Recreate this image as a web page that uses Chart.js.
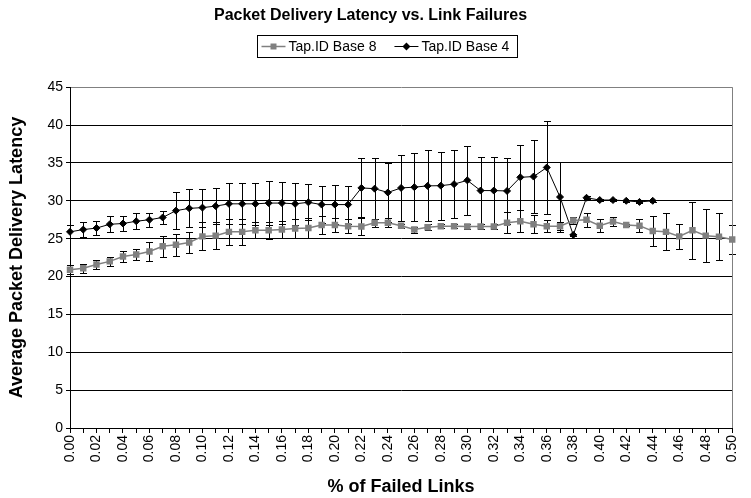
<!DOCTYPE html>
<html>
<head>
<meta charset="utf-8">
<script src="https://cdn.jsdelivr.net/npm/chart.js@4.4.0/dist/chart.umd.min.js"></script>
<style>
  html, body { margin: 0; padding: 0; background: #fff; }
  #wrap { width: 751px; height: 498px; }
</style>
</head>
<body>
<div id="wrap"><canvas id="latencyChart" width="751" height="498"></canvas></div>
<script>
const failedLinks = ['0.00','0.01','0.02','0.03','0.04','0.05','0.06','0.07','0.08','0.09',
    '0.10','0.11','0.12','0.13','0.14','0.15','0.16','0.17','0.18','0.19',
    '0.20','0.21','0.22','0.23','0.24','0.25','0.26','0.27','0.28','0.29',
    '0.30','0.31','0.32','0.33','0.34','0.35','0.36','0.37','0.38','0.39',
    '0.40','0.41','0.42','0.43','0.44','0.45','0.46','0.47','0.48','0.49','0.50'];

const base8 = [20.9, 21.1, 21.6, 22.0, 22.65, 22.9, 23.3, 24.0, 24.2, 24.5,
    25.3, 25.4, 25.9, 25.9, 26.1, 26.1, 26.2, 26.35, 26.4, 26.8,
    26.8, 26.65, 26.6, 27.1, 27.1, 26.7, 26.2, 26.5, 26.65, 26.65,
    26.6, 26.6, 26.6, 27.1, 27.3, 26.9, 26.65, 26.65, 27.4, 27.5,
    26.7, 27.25, 26.8, 26.7, 26.0, 25.9, 25.3, 26.1, 25.4, 25.25, 24.9];
const base8Err = [0.6, 0.57, 0.6, 0.6, 0.73, 0.77, 1.25, 1.36, 1.47, 1.4,
    1.85, 1.8, 1.75, 1.75, 1.05, 1.1, 1.1, 1.3, 1.3, 1.2,
    0.95, 0.9, 1.1, 0.55, 0.6, 0.3, 0.4, 0.4, 0.3, 0.3,
    0.3, 0.3, 0.3, 1.4, 1.45, 1.2, 0.75, 0.5, 0.4, 0.9,
    0.85, 0.6, 0.1, 0.85, 1.95, 2.45, 1.6, 3.8, 3.5, 3.1, 1.9];

const base4 = [25.9, 26.2, 26.4, 26.9, 27.0, 27.3, 27.5, 27.8, 28.7, 29.0,
    29.1, 29.3, 29.6, 29.6, 29.6, 29.7, 29.7, 29.6, 29.8, 29.5,
    29.5, 29.5, 31.7, 31.6, 31.1, 31.7, 31.8, 31.97, 32.0, 32.2,
    32.7, 31.35, 31.35, 31.3, 33.1, 33.2, 34.4, 30.5, 25.5, 30.4,
    30.1, 30.1, 30.0, 29.85, 30.0, null, null, null, null, null, null];
const base4Err = [0.84, 0.95, 0.88, 1.03, 1.0, 1.03, 0.92, 0.85, 2.4, 2.5,
    2.5, 2.4, 2.7, 2.7, 2.75, 2.9, 2.8, 2.75, 2.4, 2.4,
    2.6, 2.5, 3.9, 4.0, 3.9, 4.35, 4.5, 4.7, 4.5, 4.5,
    4.6, 4.4, 4.4, 4.4, 4.3, 4.8, 6.1, 4.6, 0.1, 0.2,
    0.15, 0.15, 0.15, 0.15, 0.15, null, null, null, null, null, null];

const yTicks = [0, 5, 10, 15, 20, 25, 30, 35, 40, 45];

const FONT = 'Arial, "Liberation Sans", sans-serif';

// error bars, drawn through the y scale
const errorBars = {
    id: 'errorBars',
    beforeDatasetsDraw(chart) {
        const ctx = chart.ctx;
        const y = chart.scales.y;
        ctx.save();
        ctx.strokeStyle = '#000';
        ctx.lineWidth = 1;
        chart.data.datasets.forEach((ds, di) => {
            const meta = chart.getDatasetMeta(di);
            ds.data.forEach((v, i) => {
                const e = ds.errors[i];
                if (v === null || !e) return;
                const px = Math.round(meta.data[i].x) + 0.5;
                const top = Math.round(y.getPixelForValue(v + e)) + 0.5;
                const bot = Math.round(y.getPixelForValue(v - e)) + 0.5;
                ctx.beginPath();
                ctx.moveTo(px, top); ctx.lineTo(px, bot);
                ctx.moveTo(px - 3.5, top); ctx.lineTo(px + 3.5, top);
                ctx.moveTo(px - 3.5, bot); ctx.lineTo(px + 3.5, bot);
                ctx.stroke();
            });
        });
        ctx.restore();
    }
};

// excel-like boxed legend + right plot border
const boxLegend = {
    id: 'boxLegend',
    afterDraw(chart) {
        const ctx = chart.ctx;
        const area = chart.chartArea;
        ctx.save();
        ctx.strokeStyle = '#808080';
        ctx.lineWidth = 1;
        ctx.beginPath();
        ctx.moveTo(Math.round(area.right) + 0.5, area.top);
        ctx.lineTo(Math.round(area.right) + 0.5, area.bottom);
        ctx.stroke();

        ctx.font = '14px ' + FONT;
        ctx.textBaseline = 'middle';
        const items = chart.data.datasets;
        const sample = 24, gap = 3, spacing = 18, padL = 4, padR = 8;
        const widths = items.map(d => ctx.measureText(d.label).width);
        let total = padL + padR;
        widths.forEach((w, i) => total += sample + gap + w + (i < widths.length - 1 ? spacing : 0));
        const boxH = 22;
        // legend sits a little right of the title, like the original
        const x0 = Math.round(chart.width / 2 - total / 2) + 11.5;
        const y0 = 35.5;
        ctx.strokeStyle = '#000';
        ctx.strokeRect(x0, y0, Math.round(total), boxH);
        let x = x0 + padL;
        const my = y0 + boxH / 2;
        items.forEach((d, i) => {
            ctx.strokeStyle = d.borderColor;
            ctx.lineWidth = d.borderWidth;
            ctx.beginPath();
            ctx.moveTo(x, my); ctx.lineTo(x + sample, my);
            ctx.stroke();
            ctx.fillStyle = d.pointBackgroundColor;
            const mx = x + sample / 2;
            ctx.beginPath();
            if (d.pointStyle === 'rect') {
                ctx.rect(mx - 3, my - 3, 6, 6);
            } else {
                ctx.moveTo(mx, my - 4); ctx.lineTo(mx + 4, my);
                ctx.lineTo(mx, my + 4); ctx.lineTo(mx - 4, my);
                ctx.closePath();
            }
            ctx.fill();
            ctx.fillStyle = '#000';
            ctx.fillText(d.label, x + sample + gap, my + 0.5);
            x += sample + gap + widths[i] + spacing;
        });
        ctx.restore();
    }
};

const chart = new Chart(document.getElementById('latencyChart'), {
    type: 'line',
    data: {
        labels: failedLinks,
        datasets: [{
            label: 'Tap.ID Base 8',
            data: base8,
            errors: base8Err,
            borderColor: '#808080',
            backgroundColor: '#808080',
            pointBackgroundColor: '#808080',
            pointBorderColor: '#808080',
            pointStyle: 'rect',
            pointRadius: 3.5,
            borderWidth: 1.5,
            tension: 0
        }, {
            label: 'Tap.ID Base 4',
            data: base4,
            errors: base4Err,
            borderColor: '#000',
            backgroundColor: '#000',
            pointBackgroundColor: '#000',
            pointBorderColor: '#000',
            pointStyle: 'rectRot',
            pointRadius: 3.5,
            borderWidth: 1,
            spanGaps: false,
            tension: 0
        }]
    },
    options: {
        responsive: false,
        animation: false,
        devicePixelRatio: 1,
        layout: { padding: { left: 0, right: 10, top: 0, bottom: 0 } },
        plugins: {
            legend: { display: false },
            tooltip: { enabled: false },
            title: {
                display: true,
                text: 'Packet Delivery Latency vs. Link Failures',
                color: '#000',
                font: { family: FONT, size: 16, weight: 'bold' },
                padding: { top: 6, bottom: 62 }
            }
        },
        scales: {
            x: {
                type: 'category',
                offset: false,
                afterFit(scale) { scale.height = 70; },
                grid: {
                    drawOnChartArea: false,
                    drawTicks: true,
                    tickLength: 5,
                    color: '#000'
                },
                border: { color: '#000', width: 1 },
                ticks: {
                    autoSkip: false,
                    minRotation: 90,
                    maxRotation: 90,
                    padding: 2,
                    color: '#000',
                    font: { family: FONT, size: 14 },
                    callback: function(value, index) {
                        return index % 2 === 0 ? failedLinks[index] : '';
                    }
                },
                title: {
                    display: true,
                    text: '% of Failed Links',
                    color: '#000',
                    font: { family: FONT, size: 18, weight: 'bold' },
                    padding: { top: 0, bottom: 0 }
                }
            },
            y: {
                min: 0,
                max: 45,
                afterFit(scale) { scale.width = 70; },
                afterBuildTicks(scale) { scale.ticks = yTicks.map(v => ({ value: v })); },
                grid: {
                    color: ctx => ctx.tick && ctx.tick.value === 45 ? '#808080' : '#000',
                    tickLength: 4,
                    tickColor: '#000'
                },
                border: { color: '#000', width: 1 },
                ticks: {
                    color: '#000',
                    padding: 3,
                    font: { family: FONT, size: 14 }
                },
                title: {
                    display: true,
                    text: 'Average Packet Delivery Latency',
                    color: '#000',
                    font: { family: FONT, size: 18, weight: 'bold' },
                    padding: { top: 6, bottom: 0 }
                }
            }
        }
    },
    plugins: [errorBars, boxLegend]
});
</script>
</body>
</html>
